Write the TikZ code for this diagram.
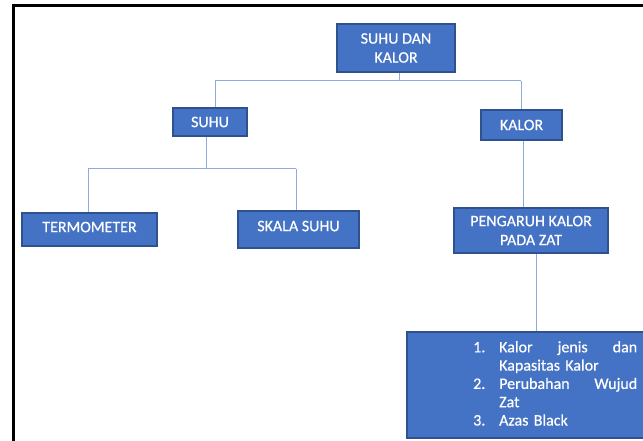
\documentclass[tikz,border=0pt]{standalone}
\usepackage{fontspec}
\setmainfont{Carlito}
\newfontfamily\boxfont{Carlito}[FakeBold=0.5]
\definecolor{boxfill}{HTML}{4472C4}
\definecolor{boxline}{HTML}{2F528F}
\definecolor{conn}{HTML}{8FAADC}
\begin{document}
\begin{tikzpicture}[x=1pt,y=-1pt,
  box/.style={draw=boxline, line width=1.3pt, fill=boxfill, text=white,
    font=\boxfont\fontsize{16}{19}\selectfont, align=center, inner sep=0pt},
  conline/.style={draw=conn, line width=1pt}]
\useasboundingbox (0,0) rectangle (643,441);
\begin{scope}
\clip (0,0) rectangle (643,441);
\draw[line width=3pt] (13.5,6) rectangle (700,500);

\node[box, minimum width=118pt, minimum height=48pt] (top) at (396,48) {SUHU DAN\\KALOR};
\node[box, minimum width=74pt, minimum height=28pt] (suhu) at (210,122) {SUHU};
\node[box, minimum width=81pt, minimum height=30pt] (kalor) at (521.5,125) {KALOR};
\node[box, minimum width=135pt, minimum height=33pt, text depth=5pt] (termo) at (89.5,229.5) {TERMOMETER};
\node[box, minimum width=121pt, minimum height=37pt, text depth=7pt] (skala) at (298.5,229.5) {SKALA SUHU};
\node[box, minimum width=154pt, minimum height=45pt] (peng) at (531,230.5) {PENGARUH KALOR\\PADA ZAT};
\node[box, minimum width=260pt, minimum height=106pt] (bottom) at (537,385) {};
\node[anchor=north west, inner sep=0pt, text=white, text width=164pt, align=left,
  font=\boxfont\fontsize{16}{18.3}\selectfont] (list) at (473,341)
  {\makebox[26pt][l]{1.}Kalor\hfill jenis\hfill dan\\
   \hspace*{26pt}Kapasitas Kalor\\
   \makebox[26pt][l]{2.}Perubahan\hfill Wujud\\
   \hspace*{26pt}Zat\\
   \makebox[26pt][l]{3.}Azas Black};

\coordinate (h1l) at (215,81);
\coordinate (h1r) at (521,81);
\draw[conline] ([xshift=3pt]top.south) -- ([xshift=3pt]top.south |- h1l);
\draw[conline] (h1l) -- (h1r);
\draw[conline] (h1l) -- (h1l |- suhu.north);
\draw[conline] (h1r) -- (h1r |- kalor.north);

\coordinate (h2l) at (88,169);
\coordinate (h2r) at (296,169);
\draw[conline] ([xshift=-4pt]suhu.south) -- ([xshift=-4pt]suhu.south |- h2l);
\draw[conline] (h2l) -- (h2r);
\draw[conline] (h2l) -- (h2l |- termo.north);
\draw[conline] (h2r) -- (h2r |- skala.north);

\draw[conline] ([xshift=2pt]kalor.south) -- ([xshift=2pt]kalor.south |- peng.north);
\draw[conline] ([xshift=5pt]peng.south) -- ([xshift=5pt]peng.south |- bottom.north);
\end{scope}
\end{tikzpicture}
\end{document}
